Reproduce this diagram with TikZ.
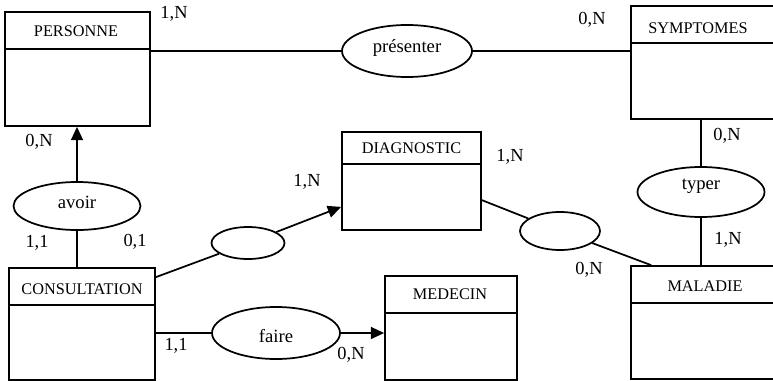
\documentclass[tikz,border=0pt]{standalone}
\usepackage{fontspec}
\setmainfont{Liberation Serif}
\usetikzlibrary{arrows.meta,calc,fit,shapes.geometric}
\begin{document}
\begin{tikzpicture}[x=0.75pt,y=-0.75pt,line width=1.3pt,
  box/.style={draw,rectangle,inner sep=0pt},
  ttl/.style={inner sep=0pt,font=\fontsize{12.2}{14}\selectfont},
  lbl/.style={inner sep=0pt,font=\fontsize{13.8}{16}\selectfont},
  rel/.style={draw,ellipse,inner sep=0pt,font=\fontsize{14}{16}\selectfont},
  arr/.style={-{Triangle[length=10pt,width=9pt]}}]
\useasboundingbox (0,0) rectangle (773,381);
\clip (0,0) rectangle (773,381);
% entities
\node[box,fit={(5,12)(150,49)}] (persh) {};
\node[box,fit={(5,49)(150,126)}] (persb) {};
\node[ttl] (perst) at (76,31) {PERSONNE};
\node[box,fit={(631,6)(800,43)}] (symph) {};
\node[box,fit={(631,43)(800,119)}] (sympb) {};
\node[ttl] (sympt) at (698,28) {SYMPTOMES};
\node[box,fit={(342,132)(481,164)}] (diagh) {};
\node[box,fit={(342,164)(481,230)}] (diagb) {};
\node[ttl] (diagt) at (411.5,148) {DIAGNOSTIC};
\node[box,fit={(9,268)(155,305)}] (consh) {};
\node[box,fit={(9,305)(155,380)}] (consb) {};
\node[ttl] (const) at (82,289) {CONSULTATION};
\node[box,fit={(385,276)(517,313)}] (medh) {};
\node[box,fit={(385,313)(517,380)}] (medb) {};
\node[ttl] (medt) at (450,294) {MEDECIN};
\node[box,fit={(631,266)(800,303)}] (malh) {};
\node[box,fit={(631,303)(800,379)}] (malb) {};
\node[ttl] (malt) at (705,286) {MALADIE};
% relations
\node[rel,minimum width=97.5pt,minimum height=39pt] (pres) at (407,51) {\raisebox{-1.5pt}[0pt][0pt]{présenter}};
\node[rel,minimum width=95.25pt,minimum height=36pt] (avoir) at (77,206) {\raisebox{-1.5pt}[0pt][0pt]{avoir}};
\node[rel,minimum width=54.75pt,minimum height=24pt] (anA) at (248,243) {};
\node[rel,minimum width=60pt,minimum height=28.5pt] (anB) at (560,231) {};
\node[rel,minimum width=95.25pt,minimum height=37.5pt] (typer) at (701,192) {\raisebox{2.25pt}[0pt][0pt]{typer}};
\node[rel,minimum width=96pt,minimum height=39pt] (faire) at (276,333) {\raisebox{-6.75pt}[0pt][0pt]{faire}};
% connectors
\draw (persb.east |- pres) -- (pres);
\draw (pres) -- (sympb.west |- pres);
\draw[arr] (avoir) -- (avoir |- persb.south);
\draw (avoir) -- (avoir |- consh.north);
\draw ($(consh.north east)+(0,10)$) -- (anA);
\draw[arr] (anA) -- ($(diagb.south west)+(0,-24)$);
\draw ($(diagb.north east)+(0,37)$) -- (anB);
\draw (anB) -- ($(malh.north west)+(21,0)$);
\draw (sympb.south -| typer) -- (typer);
\draw (typer) -- (typer |- malh.north);
\draw (consb.east |- faire) -- (faire);
\draw[arr] (faire) -- (faire -| medb.west);
% cardinalities
\node[lbl] (c1) at (174,14) {1,N};
\node[lbl] (c2) at (592,20) {0,N};
\node[lbl] (c3) at (39,142) {0,N};
\node[lbl] (c4) at (37,243) {1,1};
\node[lbl] (c5) at (135,242) {0,1};
\node[lbl] (c6) at (307,182) {1,N};
\node[lbl] (c7) at (510,157) {1,N};
\node[lbl] (c8) at (727,136) {0,N};
\node[lbl] (c9) at (728,240) {1,N};
\node[lbl] (c10) at (589,270) {0,N};
\node[lbl] (c11) at (176,346) {1,1};
\node[lbl] (c12) at (351,355) {0,N};
\end{tikzpicture}
\end{document}
